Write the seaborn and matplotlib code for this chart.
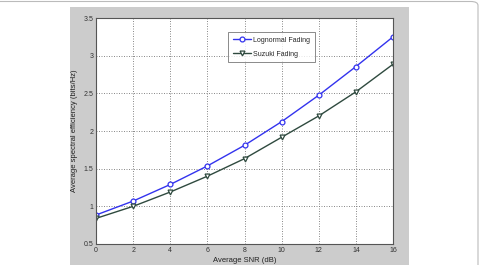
import matplotlib
matplotlib.use("Agg")
import matplotlib.pyplot as plt
from matplotlib.patches import Rectangle, FancyBboxPatch
import seaborn as sns
import pandas as pd

snr_db = [0, 2, 4, 6, 8, 10, 12, 14, 16]
lognormal = [0.885, 1.07, 1.29, 1.536, 1.81, 2.124, 2.475, 2.855, 3.25]
suzuki = [0.84, 1.0, 1.19, 1.40, 1.633, 1.917, 2.2, 2.52, 2.886]
series_names = ["Lognormal Fading", "Suzuki Fading"]

df = pd.concat([
    pd.DataFrame({"snr": snr_db, "eff": lognormal, "series": series_names[0]}),
    pd.DataFrame({"snr": snr_db, "eff": suzuki, "series": series_names[1]}),
])

sns.set_style("white")
plt.rcParams["font.family"] = ["Liberation Sans", "DejaVu Sans"]

W, H = 482, 265
fig = plt.figure(figsize=(W / 100, H / 100), dpi=100)
fig.patch.set_facecolor("white")

# grey MATLAB figure background
fig.add_artist(Rectangle((70 / W, 0), (409 - 70) / W, (H - 7) / H,
                         transform=fig.transFigure, facecolor="#cccccc",
                         edgecolor="none", zorder=-10))
# outer thin frame (top and right edges visible)
fig.add_artist(FancyBboxPatch((-0.05, -0.1), 1.05 - 4 / W, 1.1 - 1.5 / H,
                              boxstyle="round,pad=0,rounding_size=0.015",
                              transform=fig.transFigure, facecolor="none",
                              edgecolor="#bbbbbb", lw=0.8, zorder=-5))

ax = fig.add_axes([96 / W, (H - 244) / H, (393 - 96) / W, (244 - 18) / H])
ax.set_facecolor("white")

palette = {series_names[0]: "#3333ee", series_names[1]: "#2f4a3f"}
markers = {series_names[0]: "o", series_names[1]: "v"}
sns.lineplot(data=df, x="snr", y="eff", hue="series", style="series",
             palette=palette, markers=markers, dashes=False, ax=ax,
             lw=1.0, markersize=3.5, markeredgewidth=0.9)
for line in ax.get_lines():
    line.set_markeredgecolor(line.get_color())
    line.set_markerfacecolor("white")

ax.set_xlim(0, 16)
ax.set_ylim(0.5, 3.5)
ax.set_xticks(snr_db)
ax.set_yticks([0.5, 1, 1.5, 2, 2.5, 3, 3.5])
ax.set_xticklabels([str(v) for v in snr_db])
ax.set_yticklabels(["0.5", "1", "1.5", "2", "2.5", "3", "3.5"])
ax.grid(True, linestyle=(0, (1.2, 1.8)), color="#777777", lw=0.6)
ax.tick_params(axis="both", labelsize=5, length=2, width=0.5, direction="in",
               pad=2, colors="#333333")
for s in ax.spines.values():
    s.set_color("#555555")
    s.set_linewidth(0.8)

ax.set_xlabel("Average SNR (dB)", fontsize=5.5, labelpad=2, color="#222222")
ax.set_ylabel("Average spectral efficiency (bits/Hz)", fontsize=5.5,
              labelpad=4, color="#222222")

leg = ax.legend(loc="upper left", bbox_to_anchor=((225 - 96) / (393 - 96), 1 - (29 - 18) / (244 - 18)),
                fontsize=5, frameon=True, fancybox=False, borderpad=0.6,
                handlelength=2.6, labelspacing=1.0, handletextpad=0.4)
leg.get_frame().set_edgecolor("#555555")
leg.get_frame().set_linewidth(0.6)
for h in leg.get_lines():
    h.set_markeredgecolor(h.get_color())
    h.set_markerfacecolor("white")

fig.savefig("out.png", dpi=100)
